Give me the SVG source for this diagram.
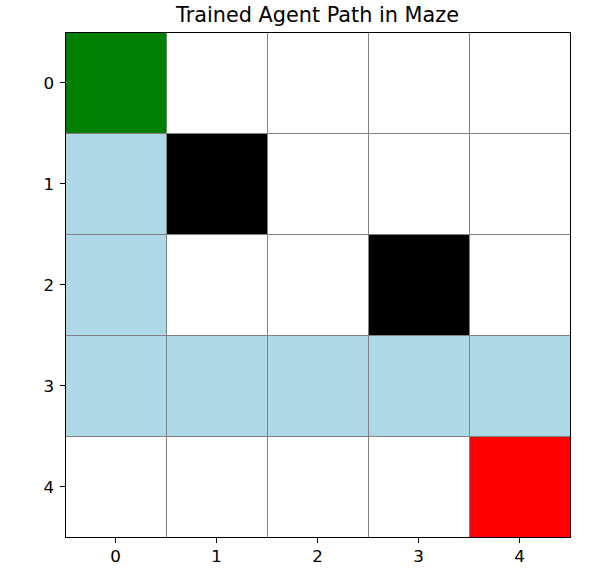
<svg xmlns="http://www.w3.org/2000/svg" width="606" height="571" viewBox="0 0 606 571">
<style>
.t{font-family:"DejaVu Sans",sans-serif;font-size:16.7px;fill:#000}
.grid line{stroke:#808080;stroke-width:1}
.tick{stroke:#000;stroke-width:1}
</style>
<rect width="606" height="571" fill="#fff"/>
<text class="t" x="317.5" y="22" text-anchor="middle" style="font-size:20.8px">Trained Agent Path in Maze</text>
<g id="cells">
<rect x="65.5" y="32" width="101" height="101" fill="#008000"/>
<rect x="65.5" y="133" width="101" height="202" fill="#add8e6"/>
<rect x="166.5" y="133" width="101" height="101" fill="#000"/>
<rect x="368.5" y="234" width="101" height="101" fill="#000"/>
<rect x="65.5" y="335" width="505" height="101" fill="#add8e6"/>
<rect x="469.5" y="436" width="101" height="101.5" fill="#f00"/>
</g>
<g class="grid" id="grid">
<line x1="166.5" y1="32" x2="166.5" y2="537.5"/>
<line x1="267.5" y1="32" x2="267.5" y2="537.5"/>
<line x1="368.5" y1="32" x2="368.5" y2="537.5"/>
<line x1="469.5" y1="32" x2="469.5" y2="537.5"/>
<line x1="65.5" y1="133.5" x2="570.5" y2="133.5"/>
<line x1="65.5" y1="234.5" x2="570.5" y2="234.5"/>
<line x1="65.5" y1="335.5" x2="570.5" y2="335.5"/>
<line x1="65.5" y1="436.5" x2="570.5" y2="436.5"/>
</g>
<rect x="65.5" y="32.5" width="505" height="505" fill="none" stroke="#000" stroke-width="1"/>
<g id="ticks">
<line class="tick" x1="115.5" y1="537.5" x2="115.5" y2="543"/>
<line class="tick" x1="216.5" y1="537.5" x2="216.5" y2="543"/>
<line class="tick" x1="317.5" y1="537.5" x2="317.5" y2="543"/>
<line class="tick" x1="418.5" y1="537.5" x2="418.5" y2="543"/>
<line class="tick" x1="519.5" y1="537.5" x2="519.5" y2="543"/>
<line class="tick" x1="60" y1="82.5" x2="65.5" y2="82.5"/>
<line class="tick" x1="60" y1="183.5" x2="65.5" y2="183.5"/>
<line class="tick" x1="60" y1="284.5" x2="65.5" y2="284.5"/>
<line class="tick" x1="60" y1="385.5" x2="65.5" y2="385.5"/>
<line class="tick" x1="60" y1="486.5" x2="65.5" y2="486.5"/>
</g>
<g id="labels">
<text class="t" x="115.5" y="562" text-anchor="middle">0</text>
<text class="t" x="216.5" y="562" text-anchor="middle">1</text>
<text class="t" x="317.5" y="562" text-anchor="middle">2</text>
<text class="t" x="418.5" y="562" text-anchor="middle">3</text>
<text class="t" x="519.5" y="562" text-anchor="middle">4</text>
<text class="t" x="54" y="88.5" text-anchor="end">0</text>
<text class="t" x="54" y="189.5" text-anchor="end">1</text>
<text class="t" x="54" y="290.5" text-anchor="end">2</text>
<text class="t" x="54" y="391.5" text-anchor="end">3</text>
<text class="t" x="54" y="492.5" text-anchor="end">4</text>
</g>
</svg>
